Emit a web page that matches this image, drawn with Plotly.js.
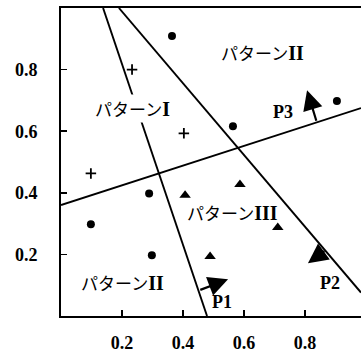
<!DOCTYPE html>
<html>
<head>
<meta charset="utf-8">
<script src="https://cdn.plot.ly/plotly-3.0.1.min.js"></script>
<style>
  html, body { margin: 0; padding: 0; background: #fff; }
  #chart { width: 361px; height: 354px; }
</style>
</head>
<body>
<div id="chart"></div>
<script>
// samples
const circleX = [0.364, 0.564, 0.905, 0.289, 0.098, 0.298];
const circleY = [0.909, 0.616, 0.698, 0.398, 0.298, 0.197];
const plusX = [0.233, 0.098, 0.403];
const plusY = [0.800, 0.463, 0.593];
const triX = [0.587, 0.711, 0.489, 0.407];
const triY = [0.427, 0.287, 0.193, 0.392];

// decision boundaries (end points)
const p1X = [0.138, 0.479];
const p1Y = [1.0, 0.0];
const p2X = [0.19, 0.984];
const p2Y = [1.0, 0.076];
const p3X = [0.0, 0.984];
const p3Y = [0.36, 0.675];

// normal vectors: tail on the line, head where the arrow points
const arrowTailX = [0.452, 0.869, 0.839];
const arrowTailY = [0.083, 0.214, 0.629];
const arrowHeadX = [0.548, 0.810, 0.807];
const arrowHeadY = [0.119, 0.171, 0.733];

const pLabels = ['P1', 'P2', 'P3'];
const pLabelX = [0.528, 0.882, 0.728];
const pLabelY = [0.047, 0.106, 0.662];

const regionNames = ['II', 'I', 'III', 'II'];
const regionX = [0.662, 0.236, 0.561, 0.203];
const regionY = [0.857, 0.675, 0.337, 0.109];

const tickVals = [0.2, 0.4, 0.6, 0.8];

const lineStyle = {color: '#000', width: 1.9};
const boundary = (xs, ys) => ({
  x: xs, y: ys, mode: 'lines', type: 'scatter', line: lineStyle, hoverinfo: 'skip'
});

const traces = [
  boundary(p1X, p1Y),
  boundary(p2X, p2Y),
  boundary(p3X, p3Y),
  {
    x: circleX, y: circleY, mode: 'markers', type: 'scatter',
    marker: {symbol: 'circle', size: 8, color: '#000'}
  },
  {
    x: plusX, y: plusY, mode: 'markers', type: 'scatter',
    marker: {symbol: 'cross-thin-open', size: 7.5, color: '#000', line: {color: '#000', width: 1.8}}
  },
  {
    x: triX, y: triY, mode: 'markers', type: 'scatter',
    marker: {symbol: 'triangle-up', size: 10, color: '#000'}
  }
];

const annotations = [];
regionNames.forEach((n, i) => {
  annotations.push({
    x: regionX[i], y: regionY[i],
    text: 'パターン<span style="font-family:Liberation Serif;font-weight:bold;font-size:20px">' + n + '</span>',
    showarrow: false,
    font: {family: 'Noto Sans CJK JP', size: 17, color: '#000'},
    bgcolor: i === 1 ? '#fff' : 'rgba(0,0,0,0)'
  });
});
pLabels.forEach((t, i) => {
  annotations.push({
    x: pLabelX[i], y: pLabelY[i], text: t, showarrow: false,
    font: {family: 'Liberation Serif', size: 18, color: '#000', weight: 'bold'}
  });
});
arrowTailX.forEach((tx, i) => {
  annotations.push({
    x: arrowHeadX[i], y: arrowHeadY[i], ax: tx, ay: arrowTailY[i],
    xref: 'x', yref: 'y', axref: 'x', ayref: 'y',
    text: '', showarrow: true, arrowhead: 2, arrowsize: 1.8, arrowwidth: 2.2,
    arrowcolor: '#000', standoff: 0, startstandoff: 0
  });
});

const axisFont = {family: 'Liberation Serif', size: 18, color: '#000', weight: 'bold'};

const layout = {
  width: 361,
  height: 354,
  margin: {l: 61, r: 0, t: 8, b: 38},
  paper_bgcolor: '#fff',
  plot_bgcolor: '#fff',
  showlegend: false,
  xaxis: {
    range: [0, 0.984],
    tickvals: tickVals,
    ticktext: tickVals.map(v => v.toFixed(1)),
    ticks: 'inside', ticklen: 6, tickwidth: 1.5, tickcolor: '#000',
    showline: true, linewidth: 2, linecolor: '#000', mirror: true,
    showgrid: false, zeroline: false,
    tickfont: axisFont, ticklabelstandoff: 9
  },
  yaxis: {
    range: [0, 1.0],
    tickvals: tickVals,
    ticktext: tickVals.map(v => v.toFixed(1)),
    ticks: 'inside', ticklen: 6, tickwidth: 1.5, tickcolor: '#000',
    showline: true, linewidth: 2, linecolor: '#000',
    showgrid: false, zeroline: false,
    tickfont: axisFont, ticklabelstandoff: 18
  },
  annotations: annotations
};

Plotly.newPlot('chart', traces, layout, {displayModeBar: false, staticPlot: true});
</script>
</body>
</html>
